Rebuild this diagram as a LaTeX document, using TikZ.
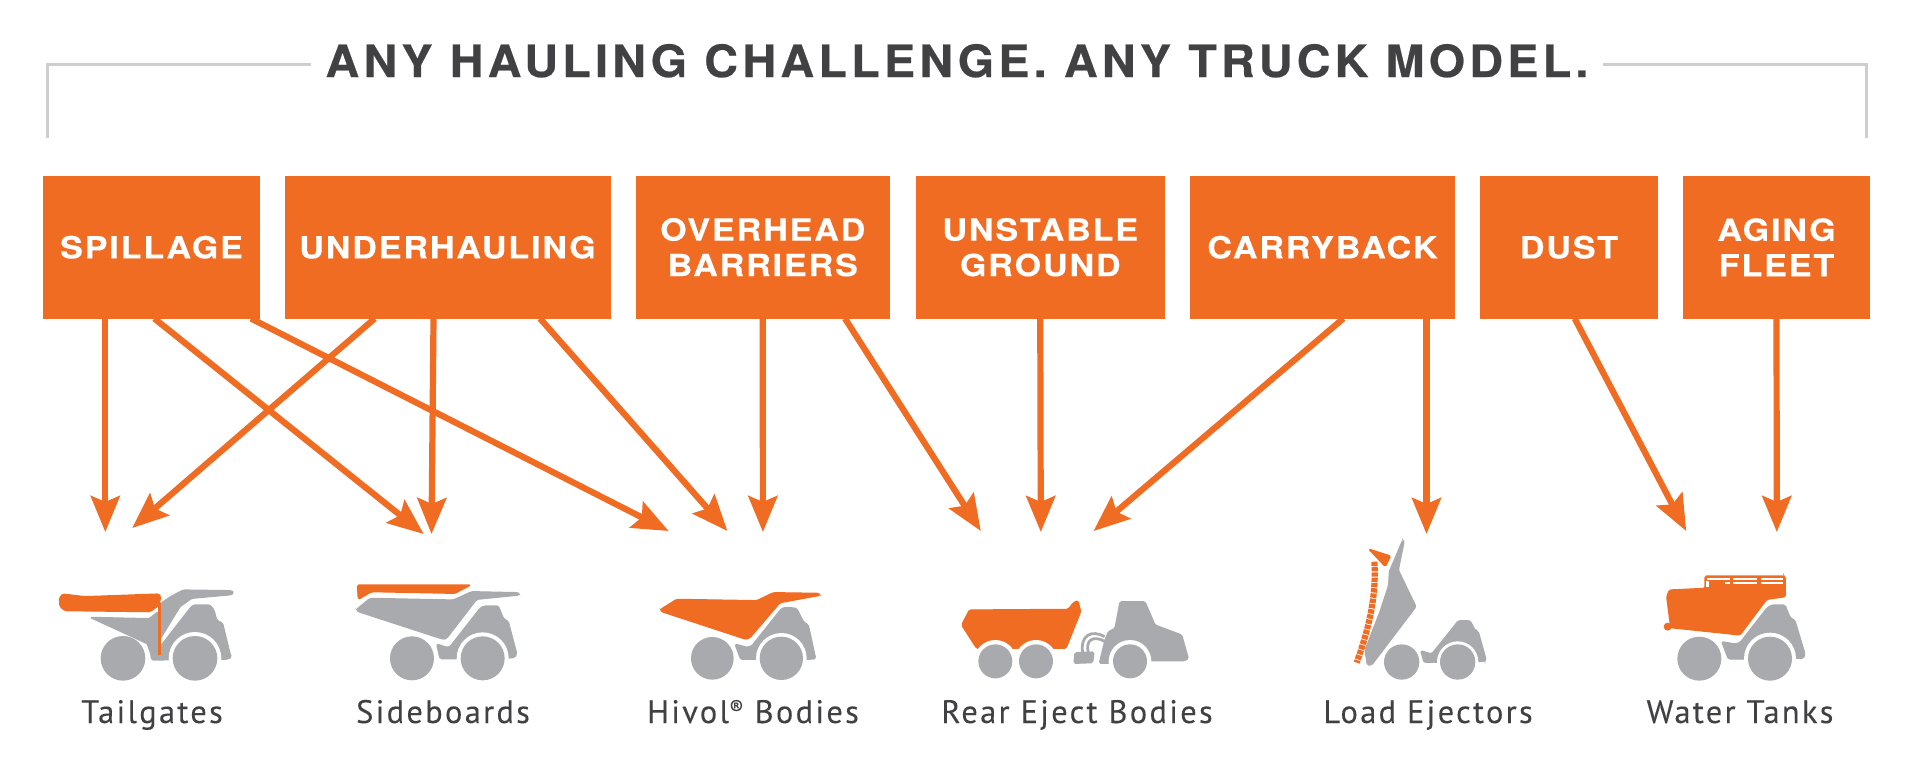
\documentclass[tikz,border=0pt]{standalone}
\usepackage{fontspec}
\usetikzlibrary{arrows.meta}
\setmainfont{TeX Gyre Heros}
\newfontfamily\titlefont[LetterSpace=9.5,FakeStretch=1.05,FakeBold=0.5]{TeX Gyre Heros Bold}
\newfontfamily\boxfont[LetterSpace=6,FakeStretch=1.12,FakeBold=0.3]{TeX Gyre Heros Bold}
\newfontfamily\labelfont[LetterSpace=7,FakeBold=0.12]{PT Sans}
\definecolor{orng}{HTML}{F16C23}
\definecolor{grayt}{HTML}{A8AAAD}
\definecolor{ink}{HTML}{414042}
\definecolor{rule}{HTML}{CDCECF}
\tikzset{
  prob/.style={fill=orng,draw=none,inner sep=0pt,outer sep=0pt,text=white,align=center,
    font=\boxfont\fontsize{30.5}{35.5}\selectfont},
  arr/.style={draw=orng,line width=6.2pt,-{Stealth[length=36pt,width=29pt,inset=6pt,fill=orng]},shorten <=0pt},
  bracket/.style={draw=rule,line width=3pt,line cap=butt},
  lab/.style={anchor=base,text=ink,inner sep=0pt,font=\labelfont\fontsize{32.5}{32.5}\selectfont},
  og/.style={fill=orng,draw=orng,line width=1.2pt,rounded corners=1.5pt},
  gy/.style={fill=grayt,draw=grayt,line width=1.2pt,rounded corners=1.5pt},
  wh/.style={fill=white,draw=none},
  wheel/.style={fill=grayt,draw=none},
  hose/.style={draw=grayt,line width=2.8pt,fill=none},
}
\begin{document}
\begin{tikzpicture}[x=1pt,y=-1pt]
\useasboundingbox (0,0) rectangle (1920,772);

% heading
\node[anchor=base,inner sep=0pt,text=ink,font=\titlefont\fontsize{44.5}{44.5}\selectfont] (title) at (957,77) {ANY HAULING CHALLENGE. ANY TRUCK MODEL.};
\coordinate (bla) at (47,138);
\coordinate (blb) at (47,64);
\coordinate (blc) at (311,64);
\coordinate (bra) at (1866,138);
\coordinate (brb) at (1866,64);
\coordinate (brc) at (1603,64);
\draw[bracket] (bla) -- (blb) -- (blc);
\draw[bracket] (bra) -- (brb) -- (brc);

% problem boxes
\node[prob,minimum width=217pt,minimum height=142.5pt] (spill) at (151.5,247.25) {SPILLAGE};
\node[prob,minimum width=326pt,minimum height=142.5pt] (under) at (447.5,247.25) {UNDERHAULING};
\node[prob,minimum width=254.5pt,minimum height=142.5pt] (over) at (762.75,247.25) {OVERHEAD\\BARRIERS};
\node[prob,minimum width=248.5pt,minimum height=142.5pt] (unst) at (1040.25,247.25) {UNSTABLE\\GROUND};
\node[prob,minimum width=265pt,minimum height=142.5pt] (carry) at (1322.5,247.25) {CARRYBACK};
\node[prob,minimum width=178pt,minimum height=142.5pt] (dust) at (1569,247.25) {DUST};
\node[prob,minimum width=187pt,minimum height=142.5pt] (aging) at (1776.5,247.25) {AGING\\FLEET};

% arrow ends
\coordinate (tgA) at (105.3,532);
\coordinate (tgB) at (132.2,528);
\coordinate (sbA) at (423.7,534);
\coordinate (sbB) at (431.5,534);
\coordinate (hvA) at (668.6,531);
\coordinate (hvB) at (727.4,531);
\coordinate (hvC) at (762.9,532);
\coordinate (reA) at (980.8,531);
\coordinate (reB) at (1040.8,532);
\coordinate (reC) at (1093.5,531);
\coordinate (leA) at (1426.5,534);
\coordinate (wtA) at (1686.2,531);
\coordinate (wtB) at (1776.8,532);

\draw[arr] (spill.south west) ++(62.3,0) -- (tgA);
\draw[arr] (spill.south west) ++(111.3,0) -- (sbA);
\draw[arr] (spill.south west) ++(208,0) -- (hvA);
\draw[arr] (under.south west) ++(90.2,0) -- (tgB);
\draw[arr] (under.south west) ++(149,0) -- (sbB);
\draw[arr] (under.south west) ++(255.5,0) -- (hvB);
\draw[arr] (over.south) -- (hvC);
\draw[arr] (over.south west) ++(209.5,0) -- (reA);
\draw[arr] (unst.south) -- (reB);
\draw[arr] (carry.south west) ++(153.3,0) -- (reC);
\draw[arr] (carry.south west) ++(236.5,0) -- (leA);
\draw[arr] (dust.south west) ++(94.7,0) -- (wtA);
\draw[arr] (aging.south) -- (wtB);

% Tailgates truck
\begin{scope}[shift={(30,570)},scale=0.33333]
  \fill[gy] (350,217) -- (384,232) -- (392,228) -- (480,115) -- (490,105) -- (540,105) -- (552,120) -- (560,150) -- (578,160) -- (600,250) -- (604,262) -- (590,268) -- (365,270) -- (362,250) -- cycle;
  \fill[wh] (495,265) circle[radius=79];
  \fill[wheel] (279,265) circle[radius=67];
  \fill[wheel] (495,265) circle[radius=67];
  \fill[gy] (180,142) -- (358,146) -- (384,125) -- (384,236) -- cycle;
  \fill[gy] (392,100) -- (425,78) -- (460,60) -- (605,62) -- (612,68) -- (605,74) -- (485,85) -- (450,110) -- (392,205) -- cycle;
  \fill[og] (88,85) -- (98,72) -- (165,80) -- (385,72) -- (392,78) -- (388,105) -- (360,125) -- (105,122) -- (90,110) -- cycle;
  \fill[orng] (384,100) rectangle (392,255);
\end{scope}

% Sideboards truck
\begin{scope}[shift={(340,570)},scale=0.33333]
  \fill[gy] (290,222) -- (320,232) -- (330,230) -- (420,115) -- (432,108) -- (475,108) -- (490,145) -- (505,155) -- (530,250) -- (525,262) -- (510,264) -- (355,266) -- (300,266) -- cycle;
  \fill[wh] (428,265) circle[radius=78];
  \fill[wheel] (216,265) circle[radius=66];
  \fill[wheel] (428,265) circle[radius=66];
  \fill[gy] (50,118) -- (90,85) -- (340,90) -- (395,65) -- (535,68) -- (538,75) -- (410,88) -- (320,205) -- (310,208) -- (55,125) -- cycle;
  \fill[og] (52,45) -- (392,45) -- (345,70) -- (95,65) -- (55,88) -- cycle;
\end{scope}

% Hivol truck
\begin{scope}[shift={(640,570)},scale=0.33333]
  \fill[gy] (285,222) -- (320,232) -- (335,228) -- (425,115) -- (440,112) -- (470,115) -- (490,155) -- (505,165) -- (527,266) -- (505,268) -- (350,268) -- (302,268) -- cycle;
  \fill[wh] (424,265) circle[radius=76];
  \fill[wheel] (217,265) circle[radius=64];
  \fill[wheel] (424,265) circle[radius=65];
  \fill[og] (62,118) -- (110,88) -- (350,92) -- (400,68) -- (535,70) -- (540,76) -- (420,98) -- (330,203) -- (318,208) -- (65,125) -- cycle;
\end{scope}

% Rear eject truck
\begin{scope}[shift={(940,580)},scale=0.33333]
  \fill[og] (65,135) -- (88,90) -- (385,88) -- (400,68) -- (414,62) -- (422,95) -- (378,205) -- (110,205) -- cycle;
  \fill[gy] (540,65) -- (615,65) -- (645,135) -- (725,165) -- (745,235) -- (735,242) -- (640,242) -- (495,250) -- (478,250) -- (495,180) -- (505,155) -- (525,145) -- cycle;
  \fill[wh] (166,244) circle[radius=64];
  \fill[wh] (288,244) circle[radius=64];
  \fill[wh] (570,244) circle[radius=64];
  \fill[wheel] (166,244) circle[radius=51];
  \fill[wheel] (288,244) circle[radius=51];
  \fill[wheel] (570,244) circle[radius=51];
  \draw[hose] (428,218) .. controls (420,165) and (455,148) .. (494,170);
  \draw[hose] (445,218) .. controls (435,180) and (460,165) .. (494,184);
  \fill[gy] (405,218) -- (462,216) -- (458,248) -- (402,250) -- cycle;
\end{scope}

% Load ejector truck
\begin{scope}[shift={(1330,530)},scale=0.33333]
  \fill[gy] (272,362) -- (305,372) -- (375,285) -- (385,272) -- (420,272) -- (435,300) -- (445,305) -- (467,385) -- (465,393) -- (450,395) -- (318,397) -- (282,397) -- cycle;
  \fill[wh] (383,396) circle[radius=62];
  \fill[wheel] (215,396) circle[radius=53];
  \fill[wheel] (383,396) circle[radius=53];
  \fill[gy] (218,30) -- (222,36) -- (205,120) -- (258,230) -- (125,405) -- (112,405) -- (105,360) -- (150,245) -- (176,165) -- (178,125) -- cycle;
  \fill[og] (116,57) -- (182,78) -- (166,110) -- cycle;
  \draw[draw=orng,line width=6.2pt,dash pattern=on 4.4pt off 0.9pt] (133,95) .. controls (140,200) and (115,300) .. (80,398);
\end{scope}

% Water tank truck
\begin{scope}[shift={(1640,560)},scale=0.33333]
  \fill[gy] (245,245) -- (285,252) -- (300,248) -- (380,145) -- (395,135) -- (435,135) -- (450,172) -- (465,182) -- (495,282) -- (490,295) -- (475,295) -- (310,297) -- (265,297) -- cycle;
  \fill[wh] (390,296) circle[radius=78];
  \fill[wheel] (178,296) circle[radius=66];
  \fill[wheel] (390,296) circle[radius=66];
  \fill[og] (80,110) -- (88,90) -- (195,85) -- (195,48) -- (432,48) -- (436,55) -- (436,110) -- (380,118) -- (300,225) -- (92,203) -- cycle;
  \fill[orng] (83,200) circle[radius=12];
  \fill[white] (202,54) rectangle (270,60);
  \fill[white] (280,54) rectangle (352,60);
  \fill[white] (362,54) rectangle (430,60);
  \fill[white] (280,66) rectangle (352,72);
  \fill[white] (362,66) rectangle (430,72);
  \fill[white] (255,66) rectangle (270,72);
  \fill[white] (199,64) rectangle (206,82);
\end{scope}

% labels
\node[lab] (l1) at (152,723) {Tailgates};
\node[lab] (l2) at (443,723) {Sideboards};
\node[lab] (l3) at (753,723) {Hivol\raisebox{8pt}{\fontsize{21}{21}\selectfont\char"00AE}\ Bodies};
\node[lab] (l4) at (1077,723) {Rear Eject Bodies};
\node[lab] (l5) at (1428,723) {Load Ejectors};
\node[lab] (l6) at (1740,723) {Water Tanks};
\end{tikzpicture}
\end{document}
